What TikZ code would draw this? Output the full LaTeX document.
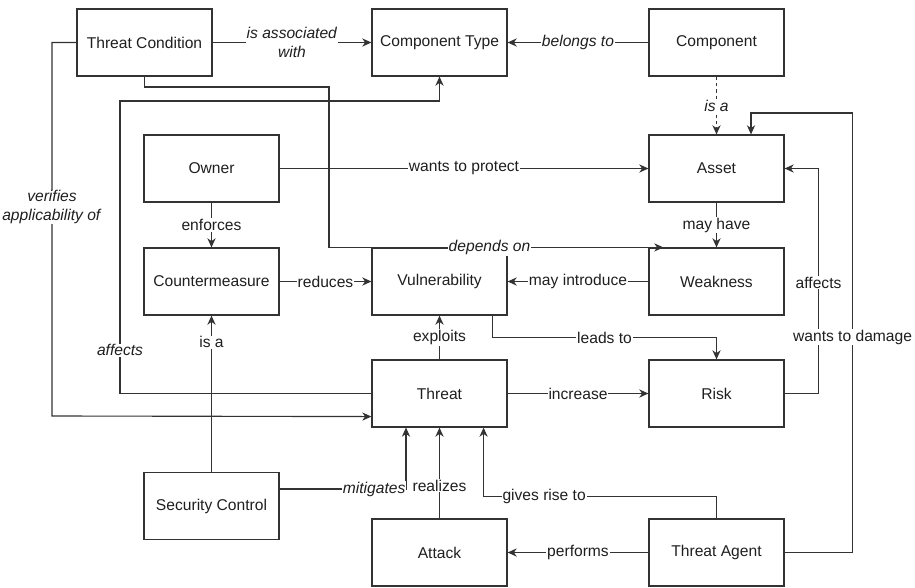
\documentclass[tikz,border=0pt]{standalone}
\usepackage{fontspec}
\setmainfont{Liberation Sans}
\usetikzlibrary{arrows.meta,calc}

\begin{document}
\begin{tikzpicture}[x=0.025cm,y=-0.025cm,
		every node/.style={font=\fontsize{11.1}{13}\selectfont, text=black!88},
		box/.style={draw=black!80, line width=0.8pt, minimum width=3.375cm, minimum height=1.675cm, inner sep=0pt},
		lbl/.style={fill=white, inner sep=0.6pt},
		rel/.style={draw=black!80, line width=0.8pt, -{Stealth[length=6.5pt,width=5.8pt,inset=2pt]}}]
		\useasboundingbox (0,0) rectangle (915,587);
		\node[box] (tc) at (144.5,42.5) {Threat Condition};
		\node[box] (ctype) at (439.5,42.5) {Component Type};
		\node[box] (comp) at (716.5,42.5) {Component};
		\node[box] (owner) at (211.5,168.5) {Owner};
		\node[box] (asset) at (716.5,168.5) {Asset};
		\node[box] (counter) at (211.5,281.5) {Countermeasure};
		\node[box] (vuln) at (439.5,281.5) {Vulnerability};
		\node[box] (weak) at (716.5,281.5) {Weakness};
		\node[box] (threat) at (439.5,393.5) {Threat};
		\node[box] (risk) at (716.5,393.5) {Risk};
		\node[box] (sec) at (211.5,506) {Security Control};
		\node[box] (attack) at (439.5,552.5) {Attack};
		\node[box] (agent) at (716.5,552.5) {Threat Agent};
		\draw [rel] (tc) -- node[lbl, align=center] {\textit{is associated}\\\textit{with}} (ctype);
		\draw [rel] (comp) -- node[lbl] {\textit{belongs to}} (ctype);
		\draw [rel, dash pattern=on 2.5pt off 2pt] (comp) -- node[lbl] {\textit{is a}} (asset);
		\draw [rel] (tc.south) |- (329,87) |- node[lbl, pos=0.74] {\textit{depends on}} ($(weak.north west)+(15,0)$);
		\draw [rel] (threat.west) -| node[lbl, pos=0.574] {\textit{affects}} (120,101) -| (ctype.south);
		\draw [rel] (tc.west) -- (52,42.5) -- node[lbl, pos=0.44, align=center] {\textit{verifies}\\\textit{applicability of}} (52,416) -- ($(threat.south west)+(0,-11)$);
		\draw [rel] (owner) -- node[lbl] {wants to protect} (asset);
		\draw [rel] (owner) -- node[lbl] {enforces} (counter);
		\draw [rel] (counter) -- node[lbl] {reduces} (vuln);
		\draw [rel] (asset) -- node[lbl] {may have} (weak);
		\draw [rel] (weak) -- node[lbl] {may introduce} (vuln);
		\draw [rel] (threat) -- node[lbl] {exploits} (vuln);
		\draw [rel] ($(vuln.south east)+(-15,0)$) -- ++(0,22) -| node[lbl, pos=0.25] {leads to} (risk.north);
		\draw [rel] (threat) -- node[lbl] {increase} (risk);
		\draw [rel] (risk.east) -- ++(34,0) |- node[lbl, pos=0.246] {affects} (asset.east);
		\draw [rel] (agent.east) -- ++(68,0) -- node[lbl, pos=0.49] {wants to damage} ++(0,-439.5) -| ($(asset.north)+(34.5,0)$);
		\draw [rel] (sec) -- node[lbl, pos=0.83] {is a} (counter);
		\draw [rel] ($(sec.east)+(0,-17)$) -| node[lbl, pos=0.374] {\textit{mitigates}} ($(threat.south)+(-33.5,0)$);
		\draw [rel] (attack) -- node[lbl, pos=0.36] {realizes} (threat);
		\draw [rel] (agent.north) -- ++(0,-22) -| node[lbl, pos=0.37] {gives rise to} ($(threat.south east)+(-24,0)$);
		\draw [rel] (agent) -- node[lbl] {performs} (attack);
	\end{tikzpicture}
\end{document}
